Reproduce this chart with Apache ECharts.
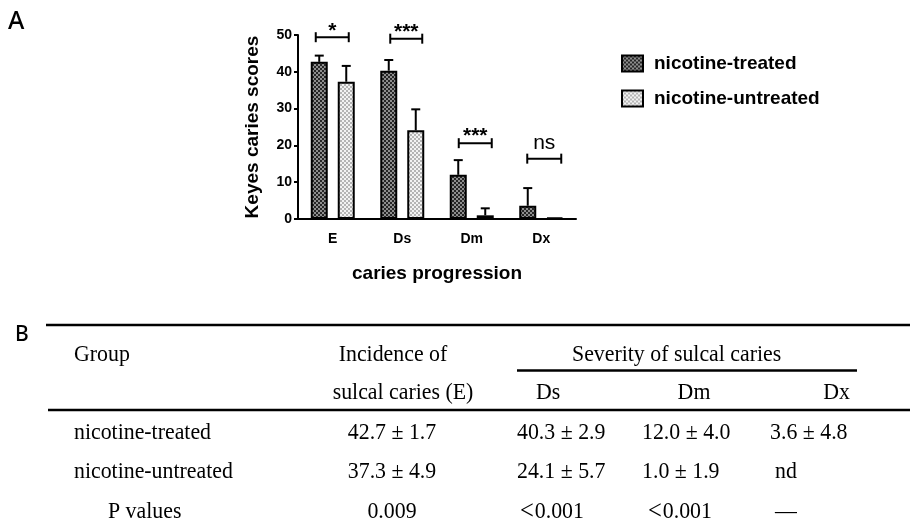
<!DOCTYPE html>
<html>
<head>
<meta charset="utf-8">
<title>Keyes caries scores</title>
<script src="https://cdn.jsdelivr.net/npm/echarts@6/dist/echarts.min.js"></script>
<style>
  html, body { margin: 0; padding: 0; background: #fff; }
  #chart { width: 910px; height: 526px; }
</style>
</head>
<body>
<div id="chart"></div>
<script>
// chart data
const categories = ['E', 'Ds', 'Dm', 'Dx']
const seriesNames = ['nicotine-treated', 'nicotine-untreated']
const treatedMean = [42.7, 40.3, 12.0, 3.6]
const treatedErr = [1.7, 2.9, 4.0, 4.8]
const untreatedMean = [37.3, 24.1, 1.0, 0.4]
const untreatedErr = [4.3, 5.7, 1.9, 0]
const yTicks = [0, 10, 20, 30, 40, 50]
// significance brackets: height in axis units + label
const sigHeight = [49.4, 49.0, 20.6, 16.4]
const sigLabels = ['*', '***', '***', 'ns']

// table B
const tableHead1 = ['Group', 'Incidence of', 'Severity of sulcal caries']
const tableHead2 = ['sulcal caries (E)', 'Ds', 'Dm', 'Dx']
const rowNames = ['nicotine-treated', 'nicotine-untreated', 'P values']
const colE = ['42.7 ± 1.7', '37.3 ± 4.9', '0.009']
const colDs = ['40.3 ± 2.9', '24.1 ± 5.7', '{lt|<}0.001']
const colDm = ['12.0 ± 4.0', '1.0 ± 1.9', '{lt|<}0.001']
const colDx = ['3.6 ± 4.8', 'nd', '—']

const barWidth = 17
const barGapPx = 10
const barOff = (barWidth + barGapPx) / 2
// bracket ends, px from category centre
const bracketEnds = [[-17, 16], [-12, 20], [-13, 20], [-14, 20]]

function makePattern(dark, light){
  const c = document.createElement('canvas')
  c.width = 4
  c.height = 4
  const ctx = c.getContext('2d')
  ctx.fillStyle = light
  ctx.fillRect(0, 0, 4, 4)
  ctx.fillStyle = dark
  ctx.fillRect(0, 0, 2, 2)
  ctx.fillRect(2, 2, 2, 2)
  return c
}
const patTreated = makePattern('#262626', '#8e8e8e')
const patUntreated = makePattern('#b4b4b4', '#f2f2f2')

const sans = 'Liberation Sans'
const serif = 'Liberation Serif'

function errRender(offset){
  return function(params, api){
    const i = api.value(0)
    const v = api.value(1)
    const e = api.value(2)
    if (!e) return null
    const p0 = api.coord([i, v])
    const p1 = api.coord([i, v + e])
    const x = p0[0] + offset
    const st = { stroke: '#000', lineWidth: 2 }
    return {
      type: 'group',
      children: [
        { type: 'line', shape: { x1: x, y1: p0[1], x2: x, y2: p1[1] }, style: st },
        { type: 'line', shape: { x1: x - 4.5, y1: p1[1], x2: x + 4.5, y2: p1[1] }, style: st }
      ]
    }
  }
}

function sigRender(params, api){
  const i = api.value(0)
  const h = api.value(1)
  const p = api.coord([i, h])
  const k = params.dataIndex
  const x1 = p[0] + bracketEnds[k][0]
  const x2 = p[0] + bracketEnds[k][1]
  const y = p[1]
  const st = { stroke: '#000', lineWidth: 2 }
  const lab = sigLabels[k]
  const isNs = lab === 'ns'
  return {
    type: 'group',
    children: [
      { type: 'line', shape: { x1: x1, y1: y, x2: x2, y2: y }, style: st },
      { type: 'line', shape: { x1: x1, y1: y - 5, x2: x1, y2: y + 5 }, style: st },
      { type: 'line', shape: { x1: x2, y1: y - 5, x2: x2, y2: y + 5 }, style: st },
      {
        type: 'text',
        style: {
          text: lab,
          x: (x1 + x2) / 2,
          y: isNs ? y - 5 : y + 4,
          align: 'center',
          verticalAlign: 'bottom',
          font: isNs ? '21px ' + sans : 'bold 21px ' + sans,
          fill: '#000'
        }
      }
    ]
  }
}

const tableGraphics = []
function txt(s, x, y, align){
  tableGraphics.push({
    type: 'text',
    x: x,
    y: y,
    scaleX: 0.91,
    style: {
      text: s, x: 0, y: 0, align: align || 'left', verticalAlign: 'middle',
      font: '24px ' + serif, fill: '#000',
      rich: { lt: { font: '27px ' + serif, fill: '#000', padding: [0, 1, 0, 0] } }
    }
  })
}
function rule(x1, y, x2){
  tableGraphics.push({
    type: 'line',
    shape: { x1: x1, y1: y, x2: x2, y2: y },
    style: { stroke: '#000', lineWidth: 2.5 }
  })
}
rule(46, 325, 910)
rule(517, 370.5, 857)
rule(48, 410, 910)
txt(tableHead1[0], 74, 355)
txt(tableHead1[1], 393, 355, 'center')
txt(tableHead1[2], 572, 355)
txt(tableHead2[0], 403, 393, 'center')
txt(tableHead2[1], 536, 393)
txt(tableHead2[2], 694, 393, 'center')
txt(tableHead2[3], 850, 393, 'right')
const rowY = [433, 472, 512]
rowNames.forEach((name, r) => {
  txt(name, r === 2 ? 108 : 74, rowY[r])
  txt(colE[r], 392, rowY[r], 'center')
  txt(colDs[r], r === 2 ? 520 : 517, rowY[r])
  txt(colDm[r], r === 2 ? 648 : 642, rowY[r])
  txt(colDx[r], r === 0 ? 770 : 775, rowY[r])
})

const myChart = echarts.init(document.getElementById('chart'))
const option = {
  animation: false,
  backgroundColor: '#fff',
  graphic: [
    { type: 'text', left: 8, top: 9, style: { text: 'A', font: '500 25px Noto Sans', fill: '#000' } },
    { type: 'text', left: 15, top: 325, style: { text: 'B', font: '500 21px Noto Sans', fill: '#000' } }
  ].concat(tableGraphics),
  legend: {
    data: seriesNames,
    orient: 'vertical',
    left: 621,
    top: 54,
    padding: 0,
    itemWidth: 21,
    itemHeight: 16,
    itemGap: 16,
    icon: 'rect',
    textStyle: { fontFamily: sans, fontWeight: 'bold', fontSize: 19, color: '#000', padding: [0, 0, 0, 6] },
    selectedMode: false
  },
  grid: { left: 298, top: 35, width: 278, height: 184 },
  xAxis: {
    type: 'category',
    data: categories,
    name: 'caries progression',
    nameLocation: 'middle',
    nameGap: 45,
    nameTextStyle: { fontFamily: sans, fontWeight: 'bold', fontSize: 19, color: '#000' },
    axisLine: { lineStyle: { color: '#000', width: 2 } },
    axisTick: { alignWithLabel: true, length: 6, lineStyle: { color: '#000', width: 2 } },
    axisLabel: { margin: 13, fontFamily: sans, fontWeight: 'bold', fontSize: 14, color: '#000' },
    splitLine: { show: false }
  },
  yAxis: {
    type: 'value',
    min: yTicks[0],
    max: yTicks[yTicks.length - 1],
    interval: 10,
    name: 'Keyes caries scores',
    nameLocation: 'middle',
    nameRotate: 90,
    nameGap: 36,
    nameTextStyle: { fontFamily: sans, fontWeight: 'bold', fontSize: 19, color: '#000' },
    axisLine: { show: true, lineStyle: { color: '#000', width: 2 } },
    axisTick: { show: true, length: 4, lineStyle: { color: '#000', width: 2 } },
    axisLabel: { margin: 6, fontFamily: sans, fontWeight: 'bold', fontSize: 14, color: '#000' },
    splitLine: { show: false }
  },
  series: [
    {
      name: seriesNames[0],
      type: 'bar',
      barWidth: barWidth,
      barGap: (barGapPx / barWidth * 100) + '%',
      data: treatedMean,
      itemStyle: { color: { image: patTreated, repeat: 'repeat' }, borderColor: '#000', borderWidth: 2 }
    },
    {
      name: seriesNames[1],
      type: 'bar',
      barWidth: barWidth,
      data: untreatedMean,
      itemStyle: { color: { image: patUntreated, repeat: 'repeat' }, borderColor: '#000', borderWidth: 2 }
    },
    {
      type: 'custom',
      silent: true,
      z: 5,
      renderItem: errRender(-barOff),
      data: treatedMean.map((v, i) => [i, v, treatedErr[i]])
    },
    {
      type: 'custom',
      silent: true,
      z: 5,
      renderItem: errRender(barOff),
      data: untreatedMean.map((v, i) => [i, v, untreatedErr[i]])
    },
    {
      type: 'custom',
      silent: true,
      z: 5,
      renderItem: sigRender,
      data: sigHeight.map((h, i) => [i, h])
    }
  ]
}
myChart.setOption(option)
window.addEventListener('resize', function () {
  myChart.resize()
})
</script>
</body>
</html>
